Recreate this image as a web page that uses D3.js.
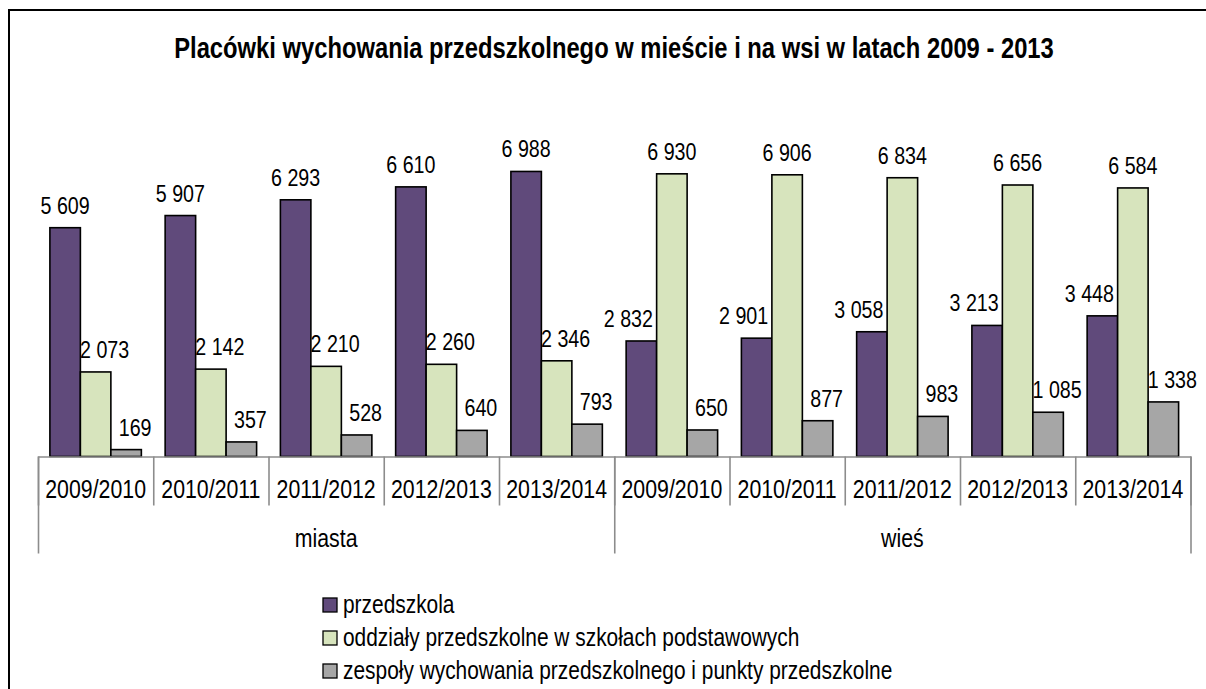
<!DOCTYPE html>
<html>
<head>
<meta charset="utf-8">
<script src="https://cdn.jsdelivr.net/npm/d3@7"></script>
<style>
  html, body { margin: 0; padding: 0; background: #fff; overflow: hidden; }
  svg { display: block; }
  svg text { font-family: "Liberation Sans Narrow", "Arial Narrow", "Liberation Sans", Arial, sans-serif; fill: #000; }
</style>
</head>
<body>
<svg id="chart" width="1206" height="689"></svg>
<script>
// data
var groups = ["miasta", "wieś"];
var years = ["2009/2010", "2010/2011", "2011/2012", "2012/2013", "2013/2014"];
var seriesNames = [
  "przedszkola",
  "oddziały przedszkolne w szkołach podstawowych",
  "zespoły wychowania przedszkolnego i punkty przedszkolne"
];
var przedszkola = [5609, 5907, 6293, 6610, 6988, 2832, 2901, 3058, 3213, 3448];
var oddzialy = [2073, 2142, 2210, 2260, 2346, 6930, 6906, 6834, 6656, 6584];
var zespoly = [169, 357, 528, 640, 793, 650, 877, 983, 1085, 1338];
var colors = ["#604a7b", "#d7e4bd", "#a6a6a6"];

var svg = d3.select("#chart");
var fmt = function(v) { return d3.format(",")(v).replace(/,/g, " "); };
var narrow = 0.82; // no Arial Narrow installed, squeeze the regular face

function place(sel, fx, fy) {
  sel.attr("transform", function(d, i) {
    return "translate(" + fx(d, i) + "," + fy(d, i) + ") scale(" + narrow + ",1)";
  });
}

// categories: group x year
var cats = [];
groups.forEach(function(g, gi) {
  years.forEach(function(y, yi) { cats.push({g: g, gi: gi, y: y, i: gi * years.length + yi}); });
});
var values = [przedszkola, oddzialy, zespoly];

var baseY = 456.5;
var x = d3.scaleBand().domain(d3.range(cats.length)).range([38, 1190.5]).padding(0);
var xs = d3.scaleBand().domain(d3.range(3)).range([0, x.bandwidth()]).paddingInner(0).paddingOuter(0.39);
var y = d3.scaleLinear().domain([0, 8000]).range([baseY, baseY - 8000 * 0.04079]);
var xIdx = d3.scaleLinear().domain([0, cats.length]).range(x.range());

// frame (right and bottom edges fall outside the picture)
svg.append("path").attr("d", "M9,700V10H1210")
  .attr("fill", "none").attr("stroke", "#000").attr("stroke-width", 2);

// title
svg.append("text").datum(0).attr("text-anchor", "middle")
  .style("font-size", "29px").style("font-weight", "bold")
  .call(place, function() { return 614; }, function() { return 58; })
  .text("Placówki wychowania przedszkolnego w mieście i na wsi w latach 2009 - 2013");

// bars
var bars = [];
cats.forEach(function(c) {
  values.forEach(function(arr, s) {
    var prev = s > 0 ? values[s - 1][c.i] : -1;
    var next = s < 2 ? values[s + 1][c.i] : -1;
    var shift = prev > arr[c.i] ? 9 : (next > arr[c.i] ? -13 : 0);
    bars.push({c: c, s: s, v: arr[c.i], shift: shift});
  });
});

svg.append("g").selectAll("rect").data(bars).enter().append("rect")
  .attr("x", function(d) { return x(d.c.i) + xs(d.s); })
  .attr("y", function(d) { return y(d.v); })
  .attr("width", xs.bandwidth())
  .attr("height", function(d) { return baseY - y(d.v); })
  .attr("fill", function(d) { return colors[d.s]; })
  .attr("stroke", "#000").attr("stroke-width", 1.6);

svg.append("g").selectAll("text").data(bars).enter().append("text")
  .attr("text-anchor", "middle")
  .style("font-size", "24px")
  .call(place,
    function(d) { return x(d.c.i) + xs(d.s) + xs.bandwidth() / 2 + d.shift; },
    function(d) { return y(d.v) - 14; })
  .text(function(d) { return fmt(d.v); });

// axes
var axis1 = svg.append("g").attr("transform", "translate(0," + baseY + ")")
  .call(d3.axisBottom(xIdx).tickValues(d3.range(cats.length + 1)).tickSize(49).tickSizeOuter(0).tickFormat(""));
var axis2 = svg.append("g").attr("transform", "translate(0," + baseY + ")")
  .call(d3.axisBottom(xIdx).tickValues([0, 5, 10]).tickSize(97).tickSizeOuter(0).tickFormat(""));
[axis1, axis2].forEach(function(a) {
  a.selectAll("path, line").attr("stroke", "#8c8c8c").attr("stroke-width", 1.6);
});
axis2.select(".domain").remove();

svg.append("g").selectAll("text").data(cats).enter().append("text")
  .attr("text-anchor", "middle")
  .style("font-size", "26px")
  .call(place, function(d) { return x(d.i) + x.bandwidth() / 2; }, function() { return 498; })
  .text(function(d) { return d.y; });

svg.append("g").selectAll("text").data(groups).enter().append("text")
  .attr("text-anchor", "middle")
  .style("font-size", "26px")
  .call(place, function(d, i) { return (xIdx(i * 5) + xIdx(i * 5 + 5)) / 2; }, function() { return 547; })
  .text(function(d) { return d; });

// legend
var leg = svg.append("g").selectAll("g").data(seriesNames).enter().append("g")
  .attr("transform", function(d, i) { return "translate(323," + (598 + i * 33) + ")"; });
leg.append("rect").attr("width", 14).attr("height", 14)
  .attr("fill", function(d, i) { return colors[i]; })
  .attr("stroke", "#000").attr("stroke-width", 1.3);
leg.append("text")
  .style("font-size", "25.5px")
  .call(place, function() { return 20; }, function() { return 15; })
  .text(function(d) { return d; });
</script>
</body>
</html>
